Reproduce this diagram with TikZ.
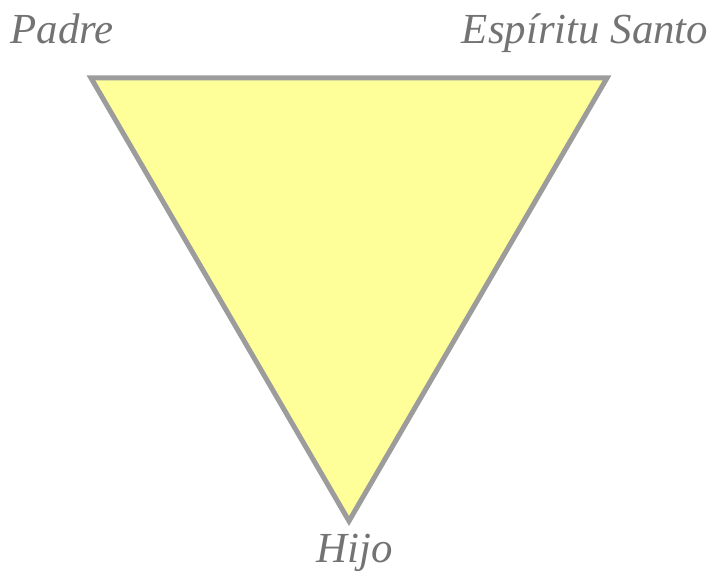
\documentclass[tikz,border=0pt]{standalone}
\usepackage{fontspec}
\setmainfont{Liberation Serif}
\definecolor{edgegray}{HTML}{9C9C9C}
\definecolor{fillyellow}{HTML}{FFFF99}
\definecolor{textgray}{HTML}{737373}
\tikzset{
  lbl/.style={text=textgray, font=\fontsize{43}{48}\selectfont\itshape, anchor=base, inner sep=0pt},
  tri/.style={draw=edgegray, fill=fillyellow, line width=5bp, line join=miter}
}
\begin{document}
\begin{tikzpicture}[x=1bp,y=-1bp]
\useasboundingbox (0,0) rectangle (718,580);
\coordinate (P) at (91,78);
\coordinate (E) at (607,78);
\coordinate (H) at (349,521);
\draw[tri] (P) -- (E) -- (H) -- cycle;
\node[lbl] (padre) at (62,44) {Padre};
\node[lbl] (espiritu) at (585,44) {Espíritu Santo};
\node[lbl] (hijo) at (355,562) {Hijo};
\end{tikzpicture}
\end{document}
